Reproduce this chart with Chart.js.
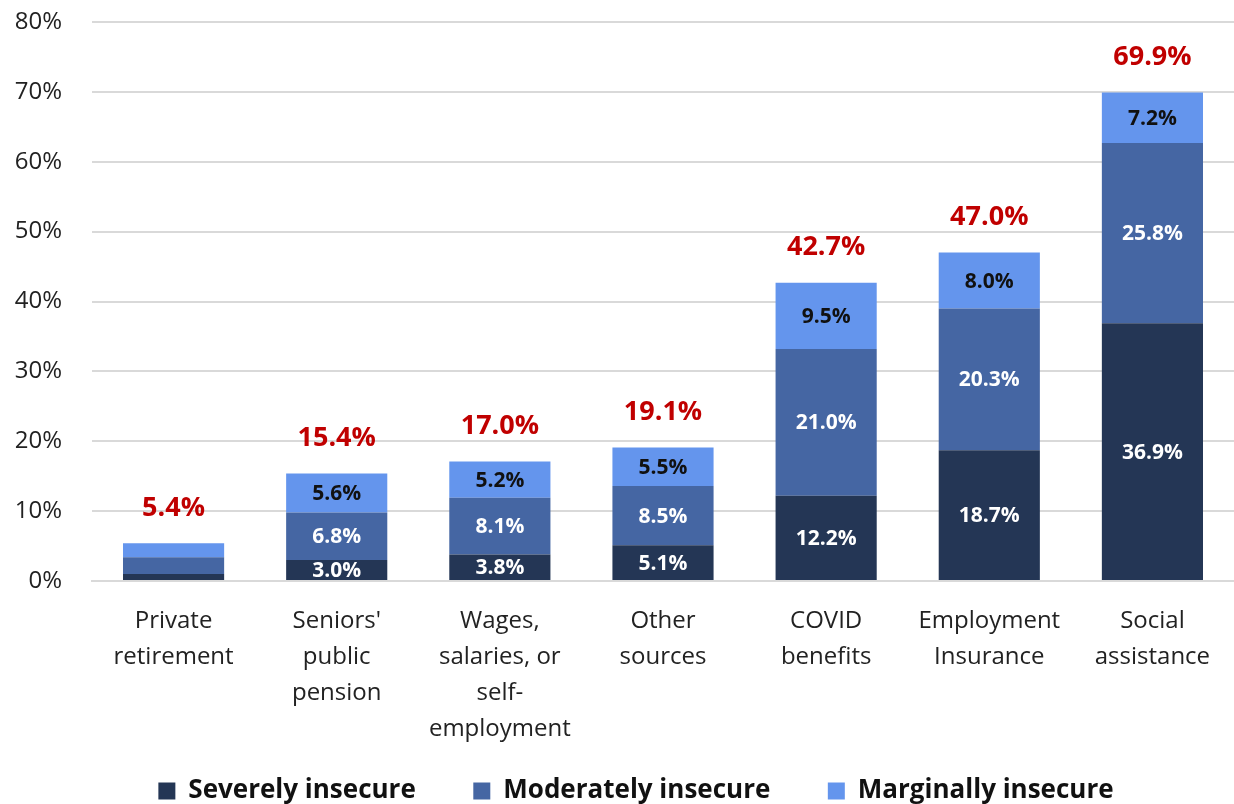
<!DOCTYPE html>
<html>
<head>
<meta charset="utf-8">
<script src="https://cdn.jsdelivr.net/npm/chart.js@4"></script>
<style>
  html, body { margin: 0; padding: 0; background: #fff; }
  #wrap { width: 1234px; height: 804px; }
</style>
</head>
<body>
<div id="wrap"><canvas id="myChart"></canvas></div>
<script>
const categories = [
    ["Private", "retirement"],
    ["Seniors'", "public", "pension"],
    ["Wages,", "salaries, or", "self-", "employment"],
    ["Other", "sources"],
    ["COVID", "benefits"],
    ["Employment", "Insurance"],
    ["Social", "assistance"]
];
const severe = [1.0, 3.0, 3.8, 5.1, 12.2, 18.7, 36.9];
const moderate = [2.4, 6.8, 8.1, 8.5, 21.0, 20.3, 25.8];
const marginal = [2.0, 5.6, 5.2, 5.5, 9.5, 8.0, 7.2];
const totals = [5.4, 15.4, 17.0, 19.1, 42.7, 47.0, 69.9];

const FONT = "'Open Sans', 'Liberation Sans', sans-serif";
const ctx = document.getElementById('myChart');

// draws the value inside each segment and the red total above each bar
const barLabels = {
    id: 'barLabels',
    afterDatasetsDraw(chart) {
        const c = chart.ctx;
        c.save();
        c.textAlign = 'center';
        c.textBaseline = 'middle';
        c.font = 'bold 21px ' + FONT;
        chart.data.datasets.forEach((ds, i) => {
            const meta = chart.getDatasetMeta(i);
            meta.data.forEach((bar, j) => {
                const v = ds.data[j];
                if (v < 3) return;
                c.fillStyle = i === 2 ? '#111111' : '#ffffff';
                c.fillText(v.toFixed(1) + '%', bar.x, (bar.y + bar.base) / 2 + 1);
            });
        });
        const top = chart.getDatasetMeta(2);
        c.fillStyle = '#c00000';
        c.font = 'bold 27px ' + FONT;
        top.data.forEach((bar, j) => {
            c.fillText(totals[j].toFixed(1) + '%', bar.x, bar.y - 35);
        });
        c.restore();
    }
};

const pad = ['      ', '      ', '        '];

new Chart(ctx, {
    type: 'bar',
    data: {
        labels: categories,
        datasets: [
            { label: 'Severely insecure', data: severe, backgroundColor: '#243655' },
            { label: 'Moderately insecure', data: moderate, backgroundColor: '#4566a3' },
            { label: 'Marginally insecure', data: marginal, backgroundColor: '#6495ed' }
        ]
    },
    options: {
        animation: false,
        responsive: true,
        maintainAspectRatio: false,
        categoryPercentage: 1,
        barPercentage: 0.62,
        layout: { padding: { top: 0, left: 0, right: 0, bottom: -10 } },
        scales: {
            x: {
                stacked: true,
                grid: { display: false },
                border: { display: true, color: '#d9d9d9', width: 2 },
                ticks: {
                    color: '#222',
                    font: { family: FONT, size: 24, lineHeight: 1.5 },
                    padding: 14,
                    maxRotation: 0,
                    autoSkip: false
                }
            },
            y: {
                stacked: true,
                min: 0,
                max: 80,
                border: { display: false },
                grid: { color: '#d9d9d9', lineWidth: 2, drawTicks: false },
                afterFit: s => {
                    s.width = 92;
                    s.paddingTop = 22;
                    s.paddingBottom = 0;
                },
                ticks: {
                    stepSize: 10,
                    color: '#222',
                    padding: 30,
                    font: { family: FONT, size: 24 },
                    callback: v => v + '%'
                }
            }
        },
        plugins: {
            tooltip: { enabled: false },
            legend: {
                position: 'bottom',
                fullSize: false,
                labels: {
                    color: '#111',
                    boxWidth: 17,
                    boxHeight: 17,
                    padding: 17,
                    font: { family: FONT, size: 26, weight: 'bold' },
                    generateLabels: chart => Chart.defaults.plugins.legend.labels.generateLabels(chart)
                        .map((item, i) => ({ ...item, text: item.text + pad[i] }))
                }
            }
        }
    },
    plugins: [barLabels]
});
</script>
</body>
</html>
